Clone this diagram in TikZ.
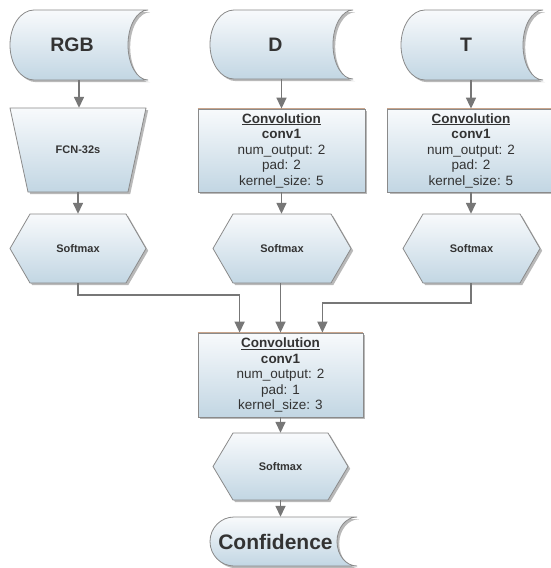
\documentclass[tikz,border=0pt]{standalone}
\usepackage{fontspec}
\setmainfont{Liberation Sans}
\usetikzlibrary{shadows,arrows.meta,calc}
\definecolor{topc}{HTML}{F8FAFC}
\definecolor{botc}{HTML}{C2D6E3}
\definecolor{edgec}{HTML}{8A8A8A}
\definecolor{arrc}{HTML}{777777}
\definecolor{txtc}{HTML}{333333}
\definecolor{brownc}{HTML}{C9A58C}
\tikzset{
  shapefill/.style={draw=edgec, line width=0.8pt, top color=topc, bottom color=botc,
    drop shadow={shadow xshift=2.2pt, shadow yshift=-2.2pt, opacity=0.55}},
  lbl/.style={inner sep=0pt, text=txtc, align=center},
  conn/.style={draw=arrc, line width=1.5pt, -{Triangle[width=10pt,length=11pt]}},
  convbox/.style={shapefill, rectangle, inner sep=0pt, text=txtc, align=center,
    font=\fontsize{13.5}{15.5}\selectfont},
  convtop/.style={draw=brownc, line width=0.8pt},
  bigfont/.style={font=\fontsize{19.5}{22}\selectfont\bfseries},
  smallbold/.style={font=\fontsize{11}{13}\selectfont\bfseries}
}
% stored data shape: name, x0, top, x1, bottom, text shift, label style, label
\newcommand\storedshape[8]{%
  \pgfmathsetmacro\sdm{(#3+#5)/2}%
  \pgfmathsetmacro\sdh{(#5-#3)/2*0.5523}%
  \pgfmathsetmacro\sdw{#4-#2}%
  \pgfmathsetmacro\sdhh{#5-#3}%
  \pgfmathsetmacro\sdc{(#2+#4)/2}%
  \path[shapefill] (#2+24,#3) -- (#4,#3)
    .. controls (#4-20*0.5523,#3) and (#4-20,\sdm-\sdh) .. (#4-20,\sdm)
    .. controls (#4-20,\sdm+\sdh) and (#4-20*0.5523,#5) .. (#4,#5)
    -- (#2+24,#5)
    .. controls (#2+24-24*0.5523,#5) and (#2,\sdm+\sdh) .. (#2,\sdm)
    .. controls (#2,\sdm-\sdh) and (#2+24-24*0.5523,#3) .. cycle;
  \node[inner sep=0pt, minimum width=\sdw pt, minimum height=\sdhh pt] (#1) at (\sdc,\sdm) {};
  \node[lbl, #7] (#1text) at (\sdc+#6,\sdm) {#8};
}
% hexagon: name, cx, top, bottom, half width, label
\newcommand\hexshape[6]{%
  \pgfmathsetmacro\hxm{(#3+#4)/2}%
  \pgfmathsetmacro\hxw{2*#5}%
  \pgfmathsetmacro\hxh{#4-#3}%
  \path[shapefill] (#2-#5+20,#3) -- (#2+#5-20,#3) -- (#2+#5,\hxm) -- (#2+#5-20,#4)
    -- (#2-#5+20,#4) -- (#2-#5,\hxm) -- cycle;
  \node[lbl, smallbold, minimum width=\hxw pt, minimum height=\hxh pt] (#1) at (#2,\hxm) {#6};
}
\begin{document}
\begin{tikzpicture}[x=1pt,y=-1pt]
\useasboundingbox[fill=white] (0,0) rectangle (550,568);

% inputs
\storedshape{rgb}{10}{10}{148}{80}{-7}{bigfont}{RGB}
\storedshape{din}{210}{10}{353}{79}{-6}{bigfont}{D}
\storedshape{tin}{401}{10}{543}{80}{-6}{bigfont}{T}

% FCN trapezium
\path[shapefill] (10,108) -- (146,108) -- (128,192) -- (28,192) -- cycle;
\node[lbl, smallbold, minimum width=136pt, minimum height=84pt] (fcn) at (78,150) {FCN-32s};

% convolution boxes
\node[convbox, minimum width=167pt, minimum height=83pt] (convD) at (281.5,150.5)
  {\underline{\textbf{Convolution}}\\ \textbf{conv1}\\ num\_output: 2\\ pad: 2\\ kernel\_size: 5};
\draw[convtop] (convD.north west) -- (convD.north east);
\node[convbox, minimum width=167pt, minimum height=83pt] (convT) at (471,150.5)
  {\underline{\textbf{Convolution}}\\ \textbf{conv1}\\ num\_output: 2\\ pad: 2\\ kernel\_size: 5};
\draw[convtop] (convT.north west) -- (convT.north east);

% softmax row
\hexshape{smR}{78}{214}{283}{68}{Softmax}
\hexshape{smD}{282}{214}{283}{69}{Softmax}
\hexshape{smT}{471.5}{214}{283}{68.5}{Softmax}

% bottom
\node[convbox, minimum width=165pt, minimum height=84pt] (convB) at (280.5,375)
  {\underline{\textbf{Convolution}}\\ \textbf{conv1}\\ num\_output: 2\\ pad: 1\\ kernel\_size: 3};
\draw[convtop] (convB.north west) -- (convB.north east);
\hexshape{smB}{280.5}{433}{500}{67.5}{Softmax}
\storedshape{conf}{210}{517}{357}{566}{-8}{font=\fontsize{21}{24}\selectfont\bfseries}{Confidence}

% connectors
\draw[conn] (rgb.south) -- (rgb.south |- fcn.north);
\draw[conn] (fcn.south) -- (fcn.south |- smR.north);
\draw[conn] (convD.north |- din.south) -- (convD.north);
\draw[conn] (convD.south) -- (convD.south |- smD.north);
\draw[conn] (convT.north |- tin.south) -- (convT.north);
\draw[conn] (convT.south) -- (convT.south |- smT.north);
\draw[conn] (smR.south) -- ++(0,12) -| ($(convB.north west)+(42,0)$);
\draw[conn] (convB.north |- smD.south) -- (convB.north);
\draw[conn] (convT.south |- smT.south) -- ++(0,20) -| ($(convB.north east)+(-41,0)$);
\draw[conn] (convB.south) -- (smB.north);
\draw[conn] (smB.south) -- (smB.south |- conf.north);
\end{tikzpicture}
\end{document}
